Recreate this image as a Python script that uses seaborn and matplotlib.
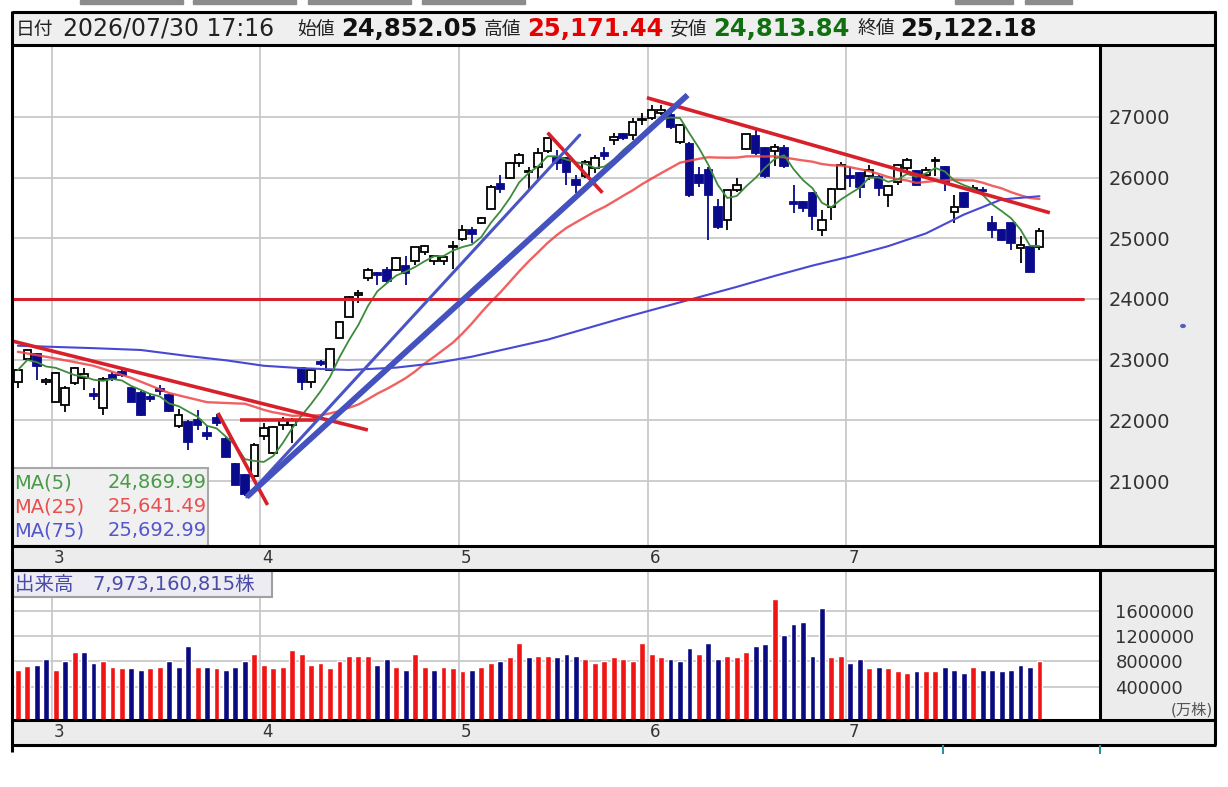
import numpy as np
import pandas as pd
import matplotlib
matplotlib.use("Agg")
import matplotlib.pyplot as plt
import seaborn as sns
from matplotlib.patches import Rectangle, Circle
from matplotlib.lines import Line2D
from matplotlib import transforms

# ---------------- data ----------------
opens = [22640, 23010, 23100, 22630, 22310, 22260, 22610, 22700, 22440, 22200,
         22750, 22790, 22530, 22450, 22380, 22520, 22420, 21900, 21980, 22000,
         21790, 22040, 21700, 21290, 21100, 21080, 21740, 21460, 21930, 21930,
         22860, 22640, 22960, 22830, 23350, 23710, 24060, 24340, 24420, 24480,
         24480, 24540, 24620, 24780, 24620, 24620, 24860, 24980, 25140, 25260,
         25480, 25890, 25990, 26240, 26090, 26180, 26430, 26320, 26320, 25960,
         26020, 26150, 26400, 26620, 26710, 26700, 26950, 26980, 27060, 27030,
         26590, 26560, 26040, 26120, 25520, 25300, 25800, 26465, 26680, 26480,
         26430, 26490, 25590, 25590, 25740, 25130, 25520, 25820, 26030, 26070,
         26020, 26010, 25720, 25920, 26150, 26110, 26050, 26270, 26170, 25440,
         25740, 25800, 25800, 25250, 25140, 25250, 24840, 24860, 24852.05]
highs = [22850, 23170, 23110, 22700, 22800, 22560, 22880, 22860, 22530, 22720,
         22800, 22850, 22540, 22480, 22450, 22580, 22440, 22180, 22000, 22170,
         21900, 22100, 21720, 21300, 21120, 21620, 21950, 21900, 22060, 22040,
         22880, 22860, 23000, 23200, 23640, 24050, 24150, 24510, 24440, 24530,
         24690, 24700, 24860, 24890, 24720, 24710, 24950, 25220, 25190, 25350,
         25870, 26040, 26260, 26400, 26180, 26480, 26660, 26460, 26340, 26040,
         26290, 26370, 26510, 26730, 26740, 26980, 27060, 27190, 27190, 27070,
         26880, 26580, 26180, 26180, 25650, 25800, 25990, 26720, 26790, 26500,
         26560, 26530, 25880, 25620, 25760, 25470, 25830, 26260, 26180, 26100,
         26210, 26040, 25880, 26230, 26320, 26130, 26180, 26340, 26190, 25720,
         25760, 25880, 25840, 25360, 25160, 25260, 25030, 24870, 25171.44]
lows = [22530, 23000, 22670, 22590, 22300, 22140, 22580, 22500, 22340, 22090,
        22650, 22720, 22300, 22080, 22300, 22420, 22140, 21880, 21510, 21840,
        21680, 21900, 21390, 20930, 20750, 21050, 21680, 21450, 21840, 21620,
        22500, 22530, 22900, 22820, 23340, 23700, 23930, 24290, 24230, 24260,
        24460, 24230, 24560, 24720, 24560, 24560, 24500, 24960, 24920, 25230,
        25470, 25740, 25980, 26180, 25820, 25980, 26410, 26130, 25880, 25740,
        25990, 26080, 26290, 26540, 26620, 26620, 26870, 26950, 27030, 26800,
        26560, 25680, 25850, 24970, 25160, 25140, 25770, 26450, 26380, 25990,
        26190, 26160, 25410, 25440, 25140, 25040, 25300, 25800, 25850, 25660,
        25960, 25690, 25520, 25880, 26100, 25860, 26010, 26020, 25780, 25260,
        25500, 25760, 25700, 25000, 24950, 24810, 24590, 24440, 24813.84]
closes = [22830, 23160, 22890, 22670, 22780, 22530, 22860, 22770, 22410, 22690,
          22680, 22740, 22310, 22090, 22350, 22490, 22150, 22090, 21650, 21920,
          21740, 21950, 21400, 20940, 20780, 21590, 21870, 21890, 22000, 22000,
          22640, 22830, 22930, 23180, 23620, 24040, 24100, 24470, 24400, 24290,
          24670, 24430, 24850, 24870, 24700, 24690, 24880, 25140, 25070, 25330,
          25850, 25820, 26235, 26370, 26100, 26400, 26650, 26240, 26090, 25880,
          26260, 26320, 26350, 26670, 26660, 26920, 26970, 27110, 27110, 26840,
          26870, 25710, 25910, 25710, 25190, 25795, 25880, 26710, 26410, 26020,
          26510, 26190, 25570, 25500, 25360, 25300, 25820, 26210, 26000, 25840,
          26120, 25830, 25860, 26200, 26290, 25880, 26120, 26290, 25930, 25520,
          25520, 25830, 25780, 25140, 24970, 24930, 24890, 24450, 25122.18]
volumes = [671000, 723000, 749000, 843000, 671000, 812000, 948000, 948000, 781000, 812000,
           718000, 702000, 702000, 671000, 702000, 718000, 812000, 718000, 1047000, 718000,
           718000, 702000, 671000, 718000, 812000, 921000, 749000, 702000, 718000, 984000,
           921000, 749000, 781000, 702000, 812000, 890000, 890000, 890000, 749000, 843000,
           718000, 671000, 921000, 718000, 671000, 718000, 702000, 640000, 671000, 718000,
           781000, 812000, 875000, 1094000, 875000, 890000, 890000, 875000, 921000, 890000,
           843000, 781000, 812000, 875000, 843000, 812000, 1094000, 921000, 875000, 843000,
           812000, 1015000, 921000, 1094000, 843000, 890000, 875000, 953000, 1047000, 1078000,
           1782000, 1219000, 1391000, 1422000, 890000, 1641000, 875000, 890000, 781000, 843000,
           702000, 718000, 702000, 640000, 609000, 640000, 640000, 640000, 718000, 671000,
           609000, 718000, 671000, 671000, 640000, 671000, 749000, 718000, 812000]
vol_colors = list("rrbbrbrbbrrrbbrrbbbrbrbbbrrrrrrrrrrrrrbbrbrrbrrrbrrbrrbrrb"
                  "bbrrrrrrrrrbbbrbbrrrbbrbbbbbrrbbrbrrrbrrbbbrbbbbbbr")

month_labels = ["3", "4", "5", "6", "7"]
month_start = [4, 26, 47, 67, 88]
price_ticks = [21000, 22000, 23000, 24000, 25000, 26000, 27000]
vol_ticks = [400000, 800000, 1200000, 1600000]

ma25_early_idx = [0, 4, 8, 12, 16, 20, 23]
ma25_early_val = [23130, 23020, 22900, 22700, 22450, 22300, 22280]
ma75_idx = [0, 4, 8, 13, 18, 22, 26, 30, 35, 40, 44, 48, 52, 56, 60, 64, 68,
            72, 76, 80, 84, 88, 92, 96, 100, 104, 108]
ma75_val = [23230, 23210, 23190, 23160, 23060, 22990, 22900, 22860, 22830, 22870,
            22940, 23050, 23190, 23330, 23510, 23690, 23860, 24030, 24200, 24380,
            24550, 24700, 24870, 25080, 25390, 25640, 25693]

# trend lines drawn by the user: (index0, price0, index1, price1)
red_lines = [(-0.6, 23308, 37.0, 21842),
             (21.15, 22122, 26.4, 20607),
             (23.5, 22007, 31.6, 22007),
             (56.0, 26740, 61.8, 25750),
             (66.5, 27315, 109.1, 25420)]
red_hline = (-0.6, 112.6, 24000)
blue_thin = (24.2, 20739, 59.4, 26701)
blue_thick = (24.2, 20739, 70.8, 27360)

ma_names = ["MA(5)", "MA(25)", "MA(75)"]
ma_values = ["24,869.99", "25,641.49", "25,692.99"]
header_parts = [("日付", None), ("2026/07/30 17:16", None), ("始値", None), ("24,852.05", "k"),
                ("高値", None), ("25,171.44", "r"), ("安値", None), ("24,813.84", "g"),
                ("終値", None), ("25,122.18", "k")]
volume_label = "出来高　7,973,160,815株"
volume_unit = "(万株)"

# ---------------- style ----------------
sns.set_theme(style="white")
plt.rcParams['font.family'] = ['DejaVu Sans', 'Noto Sans CJK JP']

W, H = 1228, 787
fig = plt.figure(figsize=(W / 100, H / 100), dpi=100)
fig.patch.set_facecolor("white")


def fx(px):
    return px / W


def fy(py):
    return 1 - py / H


def prect(x0, y0, x1, y1, z=-5, **kw):
    fig.add_artist(Rectangle((fx(x0), fy(y1)), (x1 - x0) / W, (y1 - y0) / H,
                             transform=fig.transFigure, zorder=z, **kw))


def pline(x0, y0, x1, y1, color="black", lw=1.8, z=8):
    fig.add_artist(Line2D([fx(x0), fx(x1)], [fy(y0), fy(y1)], transform=fig.transFigure,
                          color=color, lw=lw, zorder=z, solid_capstyle="butt"))


GRAYBG = "#ececec"
# top tabs
for a, b in [(80, 183), (193, 296), (308, 411), (422, 525), (955, 1013), (1025, 1072)]:
    prect(a, 0, b, 4, color="#8c8c8c")
prect(12, 12, 1215, 45, color="#efefef")
prect(1100, 45, 1215, 546, color=GRAYBG)
prect(12, 546, 1215, 570, color=GRAYBG)
prect(1100, 570, 1215, 720, color=GRAYBG)
prect(12, 720, 1215, 745, color=GRAYBG)

ax = fig.add_axes([fx(12), fy(546), 1088 / W, 501 / H])
axv = fig.add_axes([fx(12), fy(720), 1088 / W, 150 / H])
for a in (ax, axv):
    a.set_facecolor("white")
    for s in a.spines.values():
        s.set_visible(False)

n = len(closes)
idx = np.arange(n)
df = pd.DataFrame({"i": idx, "open": opens, "high": highs, "low": lows,
                   "close": closes, "volume": volumes, "vc": vol_colors})

XL = (-0.62, 114.4)
grid_c = "#c9c9c9"
grid_x = [m - 0.4 for m in month_start]

# ---------------- price panel ----------------
ax.set_xlim(*XL)
ax.set_ylim(19931, 28184)
for p in price_ticks:
    ax.axhline(p, color=grid_c, lw=1.3, zorder=0)
for g in grid_x:
    ax.axvline(g, color=grid_c, lw=1.3, zorder=0)

NAVY = "#0a0a8c"
up = df["close"] >= df["open"]
wick_c = np.where(up, "black", NAVY)
ax.vlines(df["i"], df["low"], df["high"], colors=wick_c, lw=1.3, zorder=2)
body_lo = np.minimum(df["open"], df["close"])
body_h = np.maximum(np.abs(df["close"] - df["open"]), 12)
ax.bar(df["i"], body_h, bottom=body_lo, width=0.8,
       color=np.where(up, "white", NAVY), edgecolor=np.where(up, "black", NAVY),
       linewidth=1.3, zorder=3)

# moving averages
cs = df["close"]
ma5 = cs.rolling(5, min_periods=1).mean()
ma25 = cs.rolling(25).mean()
ma25.loc[ma25_early_idx] = ma25_early_val
ma25 = ma25.dropna()
sns.lineplot(x=ma25.index, y=ma25.values, ax=ax, color="#f04545", lw=1.7, alpha=0.85, zorder=4)
sns.lineplot(x=ma75_idx, y=ma75_val, ax=ax, color="#4848d4", lw=1.5, zorder=4)
sns.lineplot(x=idx, y=ma5.values, ax=ax, color="#3d8b3d", lw=1.3, zorder=4)

# trend lines
TRED = "#d8202a"
for (a0, p0, a1, p1) in red_lines:
    ax.plot([a0, a1], [p0, p1], color=TRED, lw=2.6, zorder=5, solid_capstyle="butt")
ax.plot([red_hline[0], red_hline[1]], [red_hline[2]] * 2, color=TRED, lw=2.2, zorder=5)
ax.plot([blue_thin[0], blue_thin[2]], [blue_thin[1], blue_thin[3]], color="#4a55c4", lw=2.2, zorder=5)
ax.plot([blue_thick[0], blue_thick[2]], [blue_thick[1], blue_thick[3]], color="#4452c0", lw=4.2,
        zorder=5, solid_capstyle="butt")

ax.set_xticks([])
ax.set_yticks(price_ticks)
ax.set_yticklabels([str(p) for p in price_ticks])
ax.yaxis.tick_right()
ax.tick_params(axis="y", length=0, pad=6, labelsize=14, labelcolor="#333333")
ax.set_xlabel("")
ax.set_ylabel("")

# ---------------- volume panel ----------------
VB = -125000
axv.set_xlim(*XL)
axv.set_ylim(VB, 2240000)
for v in vol_ticks:
    axv.axhline(v, color=grid_c, lw=1.3, zorder=0)
for g in grid_x:
    axv.axvline(g, color=grid_c, lw=1.3, zorder=0)
cmap = {"r": "#f01414", "b": "#0a0a80"}
axv.bar(df["i"], df["volume"] - VB, bottom=VB, width=0.62,
        color=[cmap[c] for c in df["vc"]], zorder=2)
axv.set_xticks([])
axv.set_yticks(vol_ticks)
axv.set_yticklabels([str(v) for v in vol_ticks])
axv.yaxis.tick_right()
axv.tick_params(axis="y", length=0, pad=11, labelsize=13, labelcolor="#333333")
axv.set_xlabel("")
axv.set_ylabel("")
fig.text(fx(1213), fy(710), volume_unit, ha="right", va="center", fontsize=11, color="#555555")

# month labels on the two date bars
bt = transforms.blended_transform_factory(ax.transData, fig.transFigure)
for lab, m in zip(month_labels, month_start):
    for yy in (558, 732):
        fig.text(m + 0.35, fy(yy), lab, transform=bt, ha="center", va="center",
                 fontsize=12, color="#333333")

# ---------------- MA legend box ----------------
prect(12, 468, 208, 546, z=6, facecolor="#f0f0f0", edgecolor="#a8a8a8", lw=1.5)
ma_cols = ["#4a9a4a", "#e85050", "#5555cc"]
for k, (nm, val, c) in enumerate(zip(ma_names, ma_values, ma_cols)):
    yy = 483 + 24 * k
    fig.text(fx(14), fy(yy), nm, ha="left", va="center", fontsize=14, color=c, zorder=7)
    fig.text(fx(207), fy(yy), val, ha="right", va="center", fontsize=14, color=c, zorder=7)

# volume label box
prect(12, 571, 272, 597, z=6, facecolor="#ececf2", edgecolor="#a0a0a0", lw=1.5)
fig.text(fx(15), fy(584), volume_label, ha="left", va="center", fontsize=14,
         color="#4a4aa8", zorder=7)

# ---------------- header ----------------
hx = [16, 63, 297, 341, 484, 527, 670, 713, 857, 900]
colmap = {"k": "#111111", "r": "#e60000", "g": "#107010"}
for (txt, c), x in zip(header_parts, hx):
    if c is None:
        size = 13.5 if not txt[0].isdigit() else 17
        fig.text(fx(x), fy(29), txt, ha="left", va="center", fontsize=size, color="#222222")
    else:
        fig.text(fx(x), fy(29), txt, ha="left", va="center", fontsize=17.5,
                 fontweight="bold", color=colmap[c])

# ---------------- borders ----------------
for yy in (12, 45, 546, 570, 720, 745):
    pline(12, yy, 1216, yy, lw=2.2)
pline(12, 11, 12, 752, lw=2.2)
pline(1215, 11, 1215, 745, lw=2.2)
pline(1100, 45, 1100, 546, lw=2.2)
pline(1100, 570, 1100, 720, lw=2.2)
pline(943, 745, 943, 754, color="#2a8fa0", lw=1.5)
pline(1100, 745, 1100, 754, color="#2a8fa0", lw=1.5)
fig.add_artist(Circle((fx(1183), fy(326)), 2.2 / W, transform=fig.transFigure,
                      color="#5060c0", zorder=8))

fig.savefig("out.png", dpi=100)
